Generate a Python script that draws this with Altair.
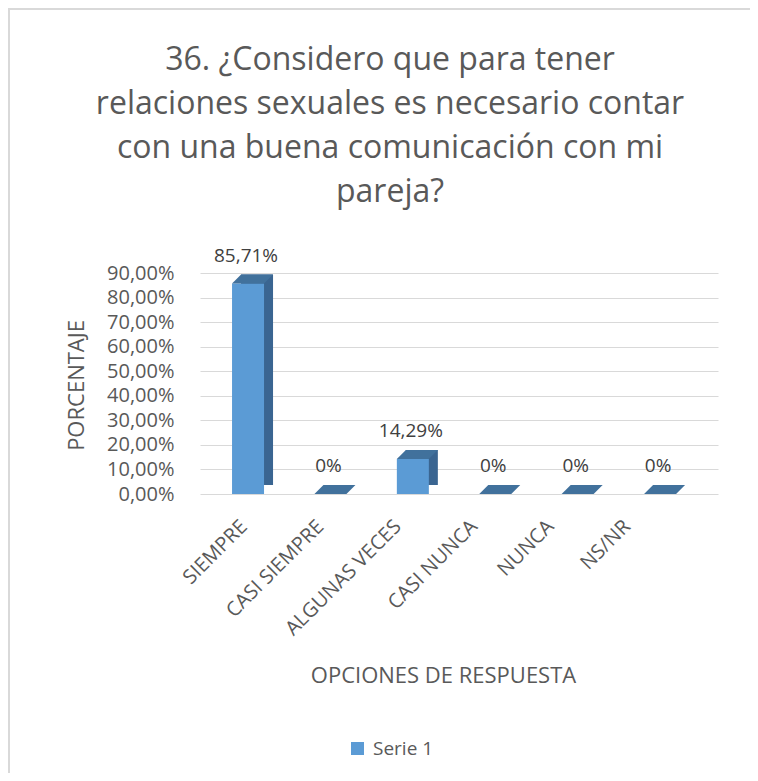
import altair as alt
import pandas as pd

categories = ["SIEMPRE", "CASI SIEMPRE", "ALGUNAS VECES", "CASI NUNCA", "NUNCA", "NS/NR"]
values = [0.8571, 0.0, 0.1429, 0.0, 0.0, 0.0]
labels = ["85,71%", "0%", "14,29%", "0%", "0%", "0%"]
label_shift = [-11, -17, -22, -28, -34, -40]
series = ["Serie 1"] * len(categories)

df = pd.DataFrame({"cat": categories, "val": values, "lab": labels, "serie": series})

FONT = "Open Sans"
GREY = "#595959"

offset_cond = {
    "condition": [{"test": f"datum.value === '{c}'", "value": s}
                  for c, s in zip(categories[:-1], label_shift[:-1])],
    "value": label_shift[-1],
}

x = alt.X("cat:N", sort=categories,
          scale=alt.Scale(paddingInner=0, paddingOuter=0.143, align=0.29),
          axis=alt.Axis(title="OPCIONES DE RESPUESTA", labelAngle=-45, labelFontSize=20,
                        labelColor=GREY, labelPadding=22, labelOffset=offset_cond, ticks=False,
                        domain=False, titleFontSize=22, titleFontWeight="normal",
                        titleColor=GREY, titleY=181, titleX=243, titleBaseline="middle"))
y = alt.Y("val:Q", scale=alt.Scale(domain=[0, 0.9]),
          axis=alt.Axis(title="PORCENTAJE", values=[i / 10 for i in range(10)],
                        labelExpr="replace(format(datum.value, '.2%'), '.', ',')",
                        labelFontSize=20, labelColor=GREY, labelPadding=26, ticks=False,
                        domain=False, gridColor="#D9D9D9", gridWidth=1.2,
                        titleFontSize=22, titleFontWeight="normal", titleColor=GREY,
                        titleAngle=-90, titleX=-124, titleY=112, titleAlign="center",
                        titleBaseline="middle"))

base = alt.Chart(df)

frame = base.mark_rect(fill=None, stroke="#D9D9D9", strokeWidth=2).encode(
    x=alt.value(-191), x2=alt.value(600), y=alt.value(-264), y2=alt.value(560))

side = base.mark_bar(size=32, color="#3A6591", xOffset=9, yOffset=-9).encode(x=x, y=y)
front = base.mark_bar(size=32).encode(
    x=x, y=y,
    color=alt.Color("serie:N", scale=alt.Scale(domain=["Serie 1"], range=["#5B9BD5"]),
                    legend=alt.Legend(title=None, orient="none", legendX=148, legendY=466,
                                      symbolType="square", symbolSize=170, labelFontSize=19,
                                      labelColor=GREY, symbolStrokeWidth=0, labelOffset=6)))
top = base.mark_point(shape="M-1,0.22L0.56,0.22L1,-0.22L-0.56,-0.22Z", size=1681, filled=True,
                      color="#41719C", opacity=1, strokeWidth=0,
                      xOffset=4.5, yOffset=-4.5).encode(x=x, y=y)
text = base.mark_text(dy=-28, dx=-2, fontSize=19, color="#404040", baseline="middle").encode(
    x=x, y=y, text="lab:N")

chart = alt.layer(frame, side, front, top, text).properties(
    width=518, height=221,
    padding={"left": 192, "top": 265, "right": 32, "bottom": 279},
    autosize=alt.AutoSizeParams(type="none"),
    title=alt.TitleParams(
        text=["36. ¿Considero que para tener", "relaciones sexuales es necesario contar",
              "con una buena comunicación con mi", "pareja?"],
        fontSize=32, fontWeight="normal", color=GREY, font=FONT, anchor="middle",
        dx=-69, offset=-201, lineHeight=44),
).configure(font=FONT).configure_view(stroke=None)

chart.save("out.html", embed_options={"renderer": "svg", "actions": False})
